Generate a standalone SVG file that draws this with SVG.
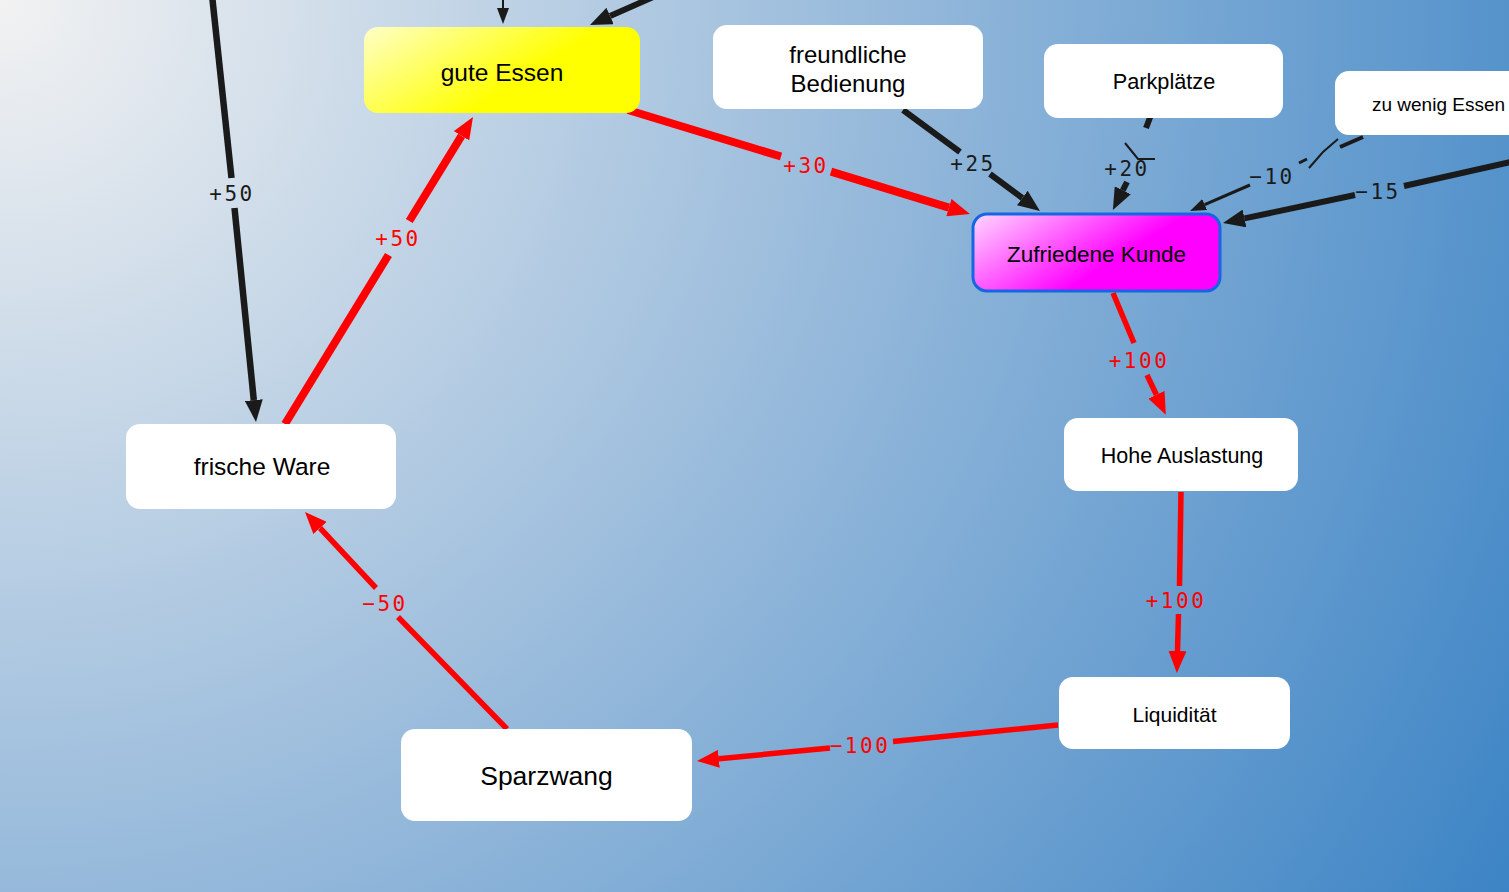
<svg xmlns="http://www.w3.org/2000/svg" width="1509" height="892" viewBox="0 0 1509 892">
<defs>
<radialGradient id="bg" gradientUnits="userSpaceOnUse" cx="0" cy="0" r="1753" fx="0" fy="0">
<stop offset="0" stop-color="#f2f2f2"/>
<stop offset="0.5" stop-color="#97badb"/>
<stop offset="1" stop-color="#3c84c5"/>
</radialGradient>
<linearGradient id="gYellow" x1="0" y1="0" x2="1" y2="0.5">
<stop offset="0" stop-color="#ffffc8"/>
<stop offset="0.7" stop-color="#ffff00"/>
<stop offset="1" stop-color="#ffff00"/>
</linearGradient>
<linearGradient id="gPink" x1="0" y1="0" x2="1" y2="0.5">
<stop offset="0" stop-color="#ffd8ff"/>
<stop offset="0.7" stop-color="#ff00ff"/>
<stop offset="1" stop-color="#ff00ff"/>
</linearGradient>
<marker id="aDark" markerUnits="userSpaceOnUse" markerWidth="22" markerHeight="18" refX="0" refY="9" orient="auto" viewBox="0 0 22 18">
<path d="M0,0 L22,9 L0,18 z" fill="#1a1a1a"/>
</marker>
<marker id="aRed" markerUnits="userSpaceOnUse" markerWidth="22" markerHeight="18" refX="0" refY="9" orient="auto" viewBox="0 0 22 18">
<path d="M0,0 L22,9 L0,18 z" fill="#ff0000"/>
</marker>
<marker id="aThin" markerUnits="userSpaceOnUse" markerWidth="16" markerHeight="12" refX="0" refY="6" orient="auto" viewBox="0 0 16 12">
<path d="M0,0 L16,6 L0,12 z" fill="#1a1a1a"/>
</marker>
<style>
.node rect{fill:#ffffff}
.node text{font-family:"Liberation Sans",Arial,sans-serif;fill:#000;text-anchor:middle}
.dk{stroke:#1a1a1a;fill:none}
.rd{stroke:#ff0000;fill:none}
.lbl{font-family:"DejaVu Sans Mono",monospace;font-size:21px;letter-spacing:2.5px;text-anchor:middle}
.ld{fill:#1a1a1a}
.lr{fill:#ff0000}
</style>
</defs>
<rect x="0" y="0" width="1509" height="892" fill="url(#bg)"/>
<g id="connectors">
<line class="dk" stroke-width="6.5" x1="212" y1="-5" x2="231.5" y2="178"/>
<line class="dk" stroke-width="6.5" x1="234.5" y1="208" x2="253.8" y2="400.1" marker-end="url(#aDark)"/>
<text class="lbl ld" x="232" y="200.5">+50</text>
<line class="dk" stroke-width="2" x1="503" y1="-2" x2="503" y2="8" marker-end="url(#aThin)"/>
<line class="dk" stroke-width="6" x1="660" y1="-6" x2="610.1" y2="16" marker-end="url(#aDark)"/>
<line class="rd" stroke-width="8" x1="285" y1="424" x2="388.5" y2="255"/>
<line class="rd" stroke-width="8" x1="409.3" y1="221" x2="461.5" y2="135.8" marker-end="url(#aRed)"/>
<text class="lbl lr" x="398" y="245.5">+50</text>
<line class="rd" stroke-width="8" x1="628" y1="110" x2="781" y2="156.5"/>
<line class="rd" stroke-width="8" x1="831" y1="171.7" x2="948.9" y2="207.6" marker-end="url(#aRed)"/>
<text class="lbl lr" x="806" y="172.5">+30</text>
<line class="dk" stroke-width="6" x1="903" y1="110" x2="960" y2="152"/>
<line class="dk" stroke-width="6" x1="990" y1="174" x2="1022.3" y2="198" marker-end="url(#aDark)"/>
<text class="lbl ld" x="973" y="170.5">+25</text>
<line class="dk" stroke-width="6" x1="1151" y1="115" x2="1146" y2="128"/>
<path class="dk" stroke-width="2" d="M1125,143 L1138,159 L1155,159"/>
<line class="dk" stroke-width="6" x1="1127" y1="182" x2="1122.8" y2="190.3" marker-end="url(#aDark)"/>
<text class="lbl ld" x="1127" y="175.5">+20</text>
<line class="dk" stroke-width="4" x1="1363" y1="137" x2="1340" y2="147"/>
<path class="dk" stroke-width="2" d="M1338,139 L1323,152 L1309,168"/>
<line class="dk" stroke-width="3" x1="1299" y1="163" x2="1307" y2="159"/>
<line class="dk" stroke-width="3" x1="1250" y1="185" x2="1204.7" y2="204.6" marker-end="url(#aThin)"/>
<text class="lbl ld" x="1272" y="183.5">−10</text>
<line class="dk" stroke-width="6" x1="1515" y1="161" x2="1404" y2="186"/>
<line class="dk" stroke-width="6" x1="1355" y1="195" x2="1244.5" y2="218.4" marker-end="url(#aDark)"/>
<text class="lbl ld" x="1378" y="198.5">−15</text>
<line class="rd" stroke-width="5.5" x1="1113" y1="293" x2="1134" y2="343"/>
<line class="rd" stroke-width="5.5" x1="1147" y1="375" x2="1156.4" y2="394.8" marker-end="url(#aRed)"/>
<text class="lbl lr" x="1139" y="367.5">+100</text>
<line class="rd" stroke-width="5.5" x1="1181" y1="492" x2="1179.5" y2="586"/>
<line class="rd" stroke-width="5.5" x1="1178.5" y1="614" x2="1177.5" y2="651" marker-end="url(#aRed)"/>
<text class="lbl lr" x="1176" y="607.5">+100</text>
<line class="rd" stroke-width="5.5" x1="1058" y1="725" x2="893" y2="741.5"/>
<line class="rd" stroke-width="5.5" x1="830" y1="748" x2="718.9" y2="758.8" marker-end="url(#aRed)"/>
<text class="lbl lr" x="860" y="752.5">−100</text>
<line class="rd" stroke-width="5.5" x1="507" y1="729" x2="398" y2="617"/>
<line class="rd" stroke-width="5.5" x1="376" y1="588" x2="320" y2="528" marker-end="url(#aRed)"/>
<text class="lbl lr" x="385" y="610.5">−50</text>
</g>
<g id="gute-essen" class="node">
<rect x="364" y="27" width="276" height="86" rx="14" style="fill:url(#gYellow)"/>
<text x="502" y="81" font-size="24.5">gute Essen</text>
</g>
<g id="freundliche-bedienung" class="node">
<rect x="713" y="25" width="270" height="84" rx="14"/>
<text x="848" y="63" font-size="24">freundliche</text>
<text x="848" y="92" font-size="24">Bedienung</text>
</g>
<g id="parkplaetze" class="node">
<rect x="1044" y="44" width="239" height="74" rx="14"/>
<text x="1164" y="89" font-size="21.7">Parkplätze</text>
</g>
<g id="zu-wenig-essen" class="node">
<rect x="1335" y="71" width="200" height="64" rx="14"/>
<text x="1438.5" y="111" font-size="19">zu wenig Essen</text>
</g>
<g id="zufriedene-kunde" class="node">
<rect x="973" y="214" width="247" height="77" rx="14" style="fill:url(#gPink);stroke:#1466e4;stroke-width:3"/>
<text x="1096.5" y="262" font-size="22.5">Zufriedene Kunde</text>
</g>
<g id="hohe-auslastung" class="node">
<rect x="1064" y="418" width="234" height="73" rx="14"/>
<text x="1182" y="463" font-size="21.5">Hohe Auslastung</text>
</g>
<g id="liquiditaet" class="node">
<rect x="1059" y="677" width="231" height="72" rx="14"/>
<text x="1174.5" y="721.5" font-size="21">Liquidität</text>
</g>
<g id="frische-ware" class="node">
<rect x="126" y="424" width="270" height="85" rx="14"/>
<text x="262" y="474.5" font-size="24.5">frische Ware</text>
</g>
<g id="sparzwang" class="node">
<rect x="401" y="729" width="291" height="92" rx="14"/>
<text x="546.5" y="785" font-size="26.5">Sparzwang</text>
</g>
</svg>
